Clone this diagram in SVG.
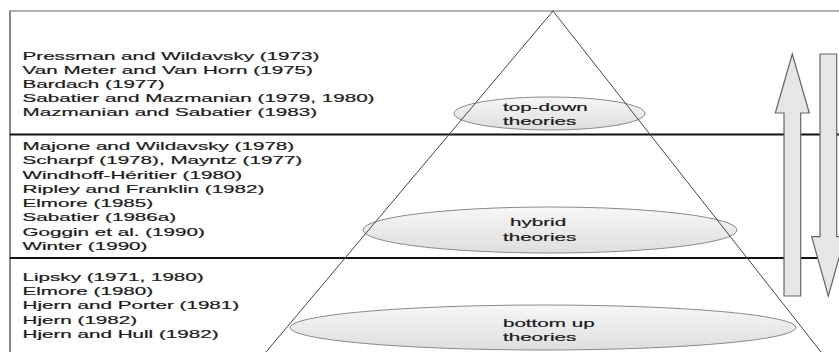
<svg xmlns="http://www.w3.org/2000/svg" width="839" height="352" viewBox="0 0 839 352">
<style>
.t{font-family:"Liberation Sans",Arial,sans-serif;font-size:11.8px;fill:#1a1a1a;stroke:#1a1a1a;stroke-width:0.2}
.sep{stroke:#111;stroke-width:2}
.side{stroke:#444;stroke-width:1;fill:none}
.ell{fill:url(#g);stroke:#8a8a8a;stroke-width:1}
.arr{fill:#e6e6e6;stroke:#666;stroke-width:1.2}
</style>
<defs>
<linearGradient id="g" x1="0" y1="0" x2="0" y2="1">
<stop offset="0" stop-color="#f7f7f7"/>
<stop offset="1" stop-color="#dedede"/>
</linearGradient>
</defs>
<rect width="839" height="352" fill="#fff"/>
<g id="frame">
<line x1="10" y1="11" x2="839" y2="11" stroke="#999" stroke-width="1.5"/>
<line x1="10" y1="10.5" x2="10" y2="352" stroke="#888" stroke-width="2"/>
<line class="sep" x1="10" y1="134.5" x2="839" y2="134.5"/>
<line class="sep" x1="10" y1="258" x2="839" y2="258"/>
</g>
<g id="ellipse-topdown">
<ellipse class="ell" cx="549.5" cy="113.5" rx="95.5" ry="16.5"/>
<g transform="scale(1.75 1)"><text class="t" x="287.4" y="111">top-down</text><text class="t" x="287.4" y="125">theories</text></g>
</g>
<g id="ellipse-hybrid">
<ellipse class="ell" cx="550" cy="230" rx="187" ry="23"/>
<g transform="scale(1.75 1)"><text class="t" x="291.4" y="226.5">hybrid</text><text class="t" x="287.4" y="241.5">theories</text></g>
</g>
<g id="ellipse-bottomup">
<ellipse class="ell" cx="543" cy="327.5" rx="253" ry="22.5"/>
<g transform="scale(1.75 1)"><text class="t" x="287.4" y="327">bottom up</text><text class="t" x="287.4" y="341.5">theories</text></g>
</g>
<g id="connectors">
<line class="side" x1="553" y1="11" x2="266" y2="352"/>
<line class="side" x1="553" y1="11" x2="821" y2="352"/>
</g>
<g id="list-topdown" transform="scale(1.75 1)">
<text class="t" x="12.86" y="60.3">Pressman and Wildavsky (1973)</text>
<text class="t" x="12.86" y="74.5">Van Meter and Van Horn (1975)</text>
<text class="t" x="12.86" y="88.5">Bardach (1977)</text>
<text class="t" x="12.86" y="102.5">Sabatier and Mazmanian (1979, 1980)</text>
<text class="t" x="12.86" y="116.5">Mazmanian and Sabatier (1983)</text>
</g>
<g id="list-hybrid" transform="scale(1.75 1)">
<text class="t" x="12.86" y="150">Majone and Wildavsky (1978)</text>
<text class="t" x="12.86" y="164.3">Scharpf (1978), Mayntz (1977)</text>
<text class="t" x="12.86" y="178.6">Windhoff-Héritier (1980)</text>
<text class="t" x="12.86" y="192.9">Ripley and Franklin (1982)</text>
<text class="t" x="12.86" y="207.2">Elmore (1985)</text>
<text class="t" x="12.86" y="221.5">Sabatier (1986a)</text>
<text class="t" x="12.86" y="235.8">Goggin et al. (1990)</text>
<text class="t" x="12.86" y="250.1">Winter (1990)</text>
</g>
<g id="list-bottomup" transform="scale(1.75 1)">
<text class="t" x="12.86" y="281">Lipsky (1971, 1980)</text>
<text class="t" x="12.86" y="295.2">Elmore (1980)</text>
<text class="t" x="12.86" y="309.4">Hjern and Porter (1981)</text>
<text class="t" x="12.86" y="323.6">Hjern (1982)</text>
<text class="t" x="12.86" y="337.8">Hjern and Hull (1982)</text>
</g>
<g id="arrow-up">
<polygon class="arr" points="792.3,54 809.3,113 800.7,113 800.7,296 784,296 784,113 775.3,113"/>
</g>
<g id="arrow-down">
<polygon class="arr" points="820,54 836.7,54 836.7,236.7 845,236.7 828.3,296 811.7,236.7 820,236.7"/>
</g>
</svg>
